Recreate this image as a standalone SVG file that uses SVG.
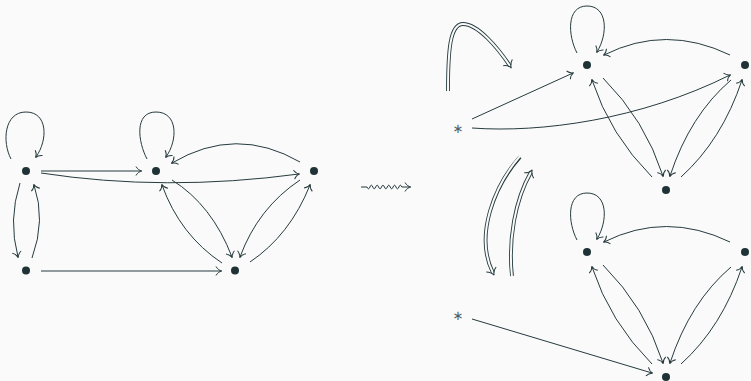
<svg xmlns="http://www.w3.org/2000/svg" width="751" height="381" viewBox="0 0 751 381">
<defs>
<style>
.e{fill:none;stroke:#263b3e;stroke-width:1;marker-end:url(#ah)}
.dbo{fill:none;stroke:#263b3e;stroke-width:3.8}
.dbi{fill:none;stroke:#fafafa;stroke-width:2;marker-end:url(#dh)}
.n{fill:#1f3336}
.star{font-family:"DejaVu Sans",sans-serif;font-size:13px;fill:#4f6164;text-anchor:middle}
</style>
<marker id="ah" viewBox="-7 -6 10 12" markerWidth="10" markerHeight="12" refX="0" refY="0" orient="auto" markerUnits="userSpaceOnUse">
<path d="M-5,-4.5 C-3.5,-1.8 -1.2,-0.4 0.8,0 C-1.2,0.4 -3.5,1.8 -5,4.5" fill="none" stroke="#263b3e" stroke-width="1"/>
</marker>
<marker id="dh" viewBox="-8 -7 14 14" markerWidth="14" markerHeight="14" refX="0" refY="0" orient="auto" markerUnits="userSpaceOnUse">
<path d="M-4,-5.5 C-2.5,-2.5 0,-0.6 2.5,0 C0,0.6 -2.5,2.5 -4,5.5" fill="none" stroke="#263b3e" stroke-width="1"/>
</marker>
</defs>
<rect width="751" height="381" fill="#fafafa"/>

<g id="connectors">
<!-- left diagram -->
<path class="e" d="M11,159 C2,142 4,112 26,112 C48,112 48,140 36,157"/>
<path class="e" d="M41,171 L141,171"/>
<path class="e" d="M41,173 Q165,192 299,174"/>
<path class="e" d="M20,183 Q8,220 18,257"/>
<path class="e" d="M32,258 Q46,220 34,185"/>
<path class="e" d="M41,271 L221,271"/>
<path class="e" d="M147,159 C138,142 134,112 156,112 C178,112 178,140 166,157"/>
<path class="e" d="M300,162 Q236,125 172,163"/>
<path class="e" d="M172,180 Q212,205 232,257"/>
<path class="e" d="M222,263 Q180,235 162,185"/>
<path class="e" d="M300,180 Q258,208 240,257"/>
<path class="e" d="M250,262 Q290,235 310,185"/>
<!-- squiggle -->
<path class="e" d="M361,187 L367,187 q1.45,3.6 2.9,0 t2.9,0 t2.9,0 t2.9,0 t2.9,0 t2.9,0 t2.9,0 t2.9,0 t2.9,0 t2.9,0 t2.9,0 t2.9,0 L410,187"/>
<!-- double arrows -->
<path class="dbo" d="M448,91 C448,50 450,24 463,24 C478,24 498,48 510,66"/>
<path class="dbi" d="M448,92 C448,50 450,24 463,24 C478,24 498,48 510,66"/>
<path class="dbo" d="M520,157 C495,185 474,235 493,273"/>
<path class="dbi" d="M520,156 C495,185 474,235 493,273"/>
<path class="dbo" d="M512,276 C508,240 515,200 531,172"/>
<path class="dbi" d="M512,277 C508,240 515,200 531,172"/>
<!-- right top -->
<path class="e" d="M577,53 C568,36 566,6 587,6 C608,6 608,34 597,52"/>
<path class="e" d="M730,55 Q666,24 604,55"/>
<path class="e" d="M472,119 L573,73"/>
<path class="e" d="M472,128 C540,133 640,120 730,75"/>
<path class="e" d="M603,78 Q645,120 663,176"/>
<path class="e" d="M652,177 Q610,135 592,80"/>
<path class="e" d="M731,80 Q690,115 670,176"/>
<path class="e" d="M681,177 Q722,140 742,80"/>
<!-- right bottom -->
<path class="e" d="M577,240 C568,223 566,193 587,193 C608,193 608,221 597,239"/>
<path class="e" d="M730,242 Q666,211 604,242"/>
<path class="e" d="M472,319 L652,373"/>
<path class="e" d="M603,265 Q645,307 663,363"/>
<path class="e" d="M652,364 Q610,322 592,267"/>
<path class="e" d="M731,267 Q690,302 670,363"/>
<path class="e" d="M681,364 Q722,327 742,267"/>
</g>

<g id="nA"><circle class="n" cx="26" cy="171" r="4"/></g>
<g id="nB"><circle class="n" cx="156" cy="171" r="4"/></g>
<g id="nC"><circle class="n" cx="314" cy="171" r="4"/></g>
<g id="nD"><circle class="n" cx="26" cy="270.5" r="4"/></g>
<g id="nE"><circle class="n" cx="235" cy="270.5" r="4"/></g>

<g id="s1"><text class="star" x="458" y="133">∗</text></g>
<g id="nP"><circle class="n" cx="587" cy="65" r="4"/></g>
<g id="nQ"><circle class="n" cx="745" cy="65" r="4"/></g>
<g id="nR"><circle class="n" cx="666" cy="190" r="4"/></g>

<g id="s2"><text class="star" x="458" y="320">∗</text></g>
<g id="nP2"><circle class="n" cx="587" cy="252" r="4"/></g>
<g id="nQ2"><circle class="n" cx="745" cy="252" r="4"/></g>
<g id="nR2"><circle class="n" cx="666" cy="377" r="4"/></g>
</svg>
